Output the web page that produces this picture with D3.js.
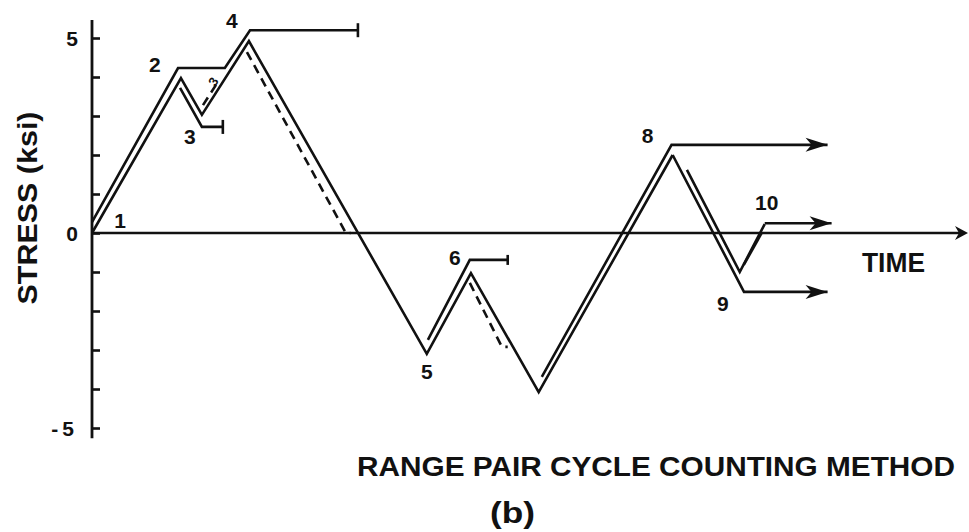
<!DOCTYPE html>
<html>
<head>
<meta charset="utf-8">
<script src="https://cdn.jsdelivr.net/npm/d3@7"></script>
<style>
  body { margin: 0; background: #fff; }
  svg { display: block; }
  text { font-family: "Liberation Sans", Arial, sans-serif; font-weight: bold; fill: #111; }
</style>
</head>
<body>
<svg id="chart" width="969" height="532"></svg>
<script>
// Stress history reversals: time (load units) and stress (ksi)
const reversalLabels = ["1", "2", "3", "4", "5", "6", "7", "8", "9", "10"];
const reversalTimes  = [0, 3.99, 4.93, 7.04, 15.02, 17.0, 20.04, 26.05, 29.06, 30.18];
const reversalStress = [0, 3.97, 3.03, 4.92, -3.10, -1.03, -4.08, 2.0, -1.0, 0.23];

// The 8-9 descent is drawn starting just below the peak
const descent8Start = [26.69, 1.62];

// Stress axis ticks (ksi) and the ones that carry a label
const stressTicks = [-5, -4, -3, -2, -1, 0, 1, 2, 3, 4, 5];
const labelledTicks = [-5, 0, 5];

// Range pair traces: [time, stress] vertices
const pairOuter12_4 = [[0, 0.28], [3.86, 4.23], [5.96, 4.23], [7.09, 5.2], [11.93, 5.2]];
const pair2_3       = [[3.95, 3.72], [4.93, 2.72], [5.87, 2.72]];
const pair5_6       = [[15.07, -2.74], [16.95, -0.69], [18.65, -0.69]];
const residual7_8   = [[20.18, -3.69], [26.0, 2.26], [33.0, 2.26]];
const residual8_9   = [[26.05, 2.0], [29.25, -1.51], [33.0, -1.51]];
const residual9_10  = [[29.24, -0.82], [30.04, 0.0]];
const residual10    = [[30.18, 0.25], [33.18, 0.25]];

// Dashed reversal paths (counted halves)
const dash3_4 = [[4.98, 3.28], [5.70, 3.92]];
const dash4_0 = [[6.95, 4.64], [11.39, 0.0], [11.61, 0.0]];
const dash6_7 = [[16.95, -1.28], [18.39, -2.92], [18.65, -2.92]];

const svg = d3.select("#chart");
const x = d3.scaleLinear().domain([0, 39.3]).range([92, 968]);
const y = d3.scaleLinear().domain([-5, 5]).range([428, 38]);
const line = d3.line().x(d => x(d[0])).y(d => y(d[1]));

const ink = "#111";
const sw = 2.6;

// ---- axes ----
svg.append("line")
  .attr("x1", x(0)).attr("x2", x(0))
  .attr("y1", y(5.46)).attr("y2", y(-5.26))
  .attr("stroke", ink).attr("stroke-width", 2.8);

const yAxis = d3.axisRight(y).tickValues(stressTicks).tickSize(8).tickFormat("");
const gy = svg.append("g").attr("transform", `translate(${x(0)},0)`).call(yAxis);
gy.select(".domain").remove();
gy.selectAll(".tick line").attr("stroke", ink).attr("stroke-width", 2.6);

svg.selectAll("text.ytick")
  .data(labelledTicks)
  .join("text")
  .attr("class", "ytick")
  .attr("x", 78)
  .attr("y", d => y(d) + 7.5)
  .attr("text-anchor", "end")
  .attr("font-size", 21)
  .attr("letter-spacing", d => d < 0 ? 4 : 0)
  .text(d => String(d));

// time axis with arrow
const xEnd = x.range()[1];
svg.append("line")
  .attr("x1", x(0)).attr("x2", xEnd - 4)
  .attr("y1", y(0)).attr("y2", y(0))
  .attr("stroke", ink).attr("stroke-width", 2.6);
svg.append("path")
  .attr("d", `M${xEnd},${y(0)} L${xEnd - 13},${y(0) - 7} L${xEnd - 9},${y(0)} L${xEnd - 13},${y(0) + 7} Z`)
  .attr("fill", ink);

// ---- stress history ----
const reversals = reversalTimes.map((t, i) => [t, reversalStress[i]]);
svg.append("path")
  .attr("d", line(reversals.slice(0, 8)))
  .attr("fill", "none").attr("stroke", ink).attr("stroke-width", sw)
  .attr("stroke-linejoin", "miter");
svg.append("path")
  .attr("d", line([descent8Start, reversals[8], reversals[9]]))
  .attr("fill", "none").attr("stroke", ink).attr("stroke-width", sw);

// ---- range pair traces ----
function trace(pts, dashed) {
  svg.append("path")
    .attr("d", line(pts))
    .attr("fill", "none").attr("stroke", ink).attr("stroke-width", sw)
    .attr("stroke-dasharray", dashed ? "9,6" : null)
    .attr("stroke-linejoin", "miter");
}
function endCap(pt, half) {
  svg.append("line")
    .attr("x1", x(pt[0])).attr("x2", x(pt[0]))
    .attr("y1", y(pt[1]) - half).attr("y2", y(pt[1]) + half)
    .attr("stroke", ink).attr("stroke-width", 2.6);
}
function arrowEnd(pt) {
  const px = x(pt[0]), py = y(pt[1]);
  svg.append("path")
    .attr("d", `M${px},${py} L${px - 22},${py - 7} L${px - 16},${py} L${px - 22},${py + 7} Z`)
    .attr("fill", ink);
}

trace(pairOuter12_4); endCap(pairOuter12_4[pairOuter12_4.length - 1], 7);
trace(pair2_3);       endCap(pair2_3[pair2_3.length - 1], 7);
trace(pair5_6);       endCap(pair5_6[pair5_6.length - 1], 5);
trace(residual7_8);   arrowEnd(residual7_8[residual7_8.length - 1]);
trace(residual8_9);   arrowEnd(residual8_9[residual8_9.length - 1]);
trace(residual9_10);
trace(residual10);    arrowEnd(residual10[residual10.length - 1]);

trace(dash3_4, true);
trace(dash4_0, true);
trace(dash6_7, true);

// small reversal mark on the dashed 3 path
svg.append("text")
  .attr("transform", `translate(${x(5.62)},${y(3.82)}) rotate(-58)`)
  .attr("text-anchor", "middle")
  .attr("font-size", 13)
  .text("3");

// ---- reversal labels ----
const labelOffsets = [[28, -13], [-26, -14], [-12, 22], [-17, -21], [0, 18], [-16, -16], null, [-25, -20], [-17, 31], [2, -22]];
svg.selectAll("text.rev")
  .data(reversals.map((p, i) => ({ p, i })).filter(d => labelOffsets[d.i]))
  .join("text")
  .attr("class", "rev")
  .attr("x", d => x(d.p[0]) + labelOffsets[d.i][0])
  .attr("y", d => y(d.p[1]) + labelOffsets[d.i][1] + 7.5)
  .attr("text-anchor", "middle")
  .attr("font-size", 21)
  .text(d => reversalLabels[d.i]);

// ---- titles ----
svg.append("text")
  .attr("x", 862).attr("y", 272)
  .attr("font-size", 27)
  .attr("textLength", 63).attr("lengthAdjust", "spacingAndGlyphs")
  .text("TIME");

svg.append("text")
  .attr("transform", "translate(37,208) rotate(-90)")
  .attr("text-anchor", "middle")
  .attr("font-size", 27)
  .attr("textLength", 193).attr("lengthAdjust", "spacingAndGlyphs")
  .text("STRESS  (ksi)");

svg.append("text")
  .attr("x", 357).attr("y", 476)
  .attr("font-size", 27)
  .attr("textLength", 598).attr("lengthAdjust", "spacingAndGlyphs")
  .text("RANGE  PAIR  CYCLE  COUNTING  METHOD");

svg.append("text")
  .attr("x", 490).attr("y", 523)
  .attr("font-size", 29)
  .attr("textLength", 45).attr("lengthAdjust", "spacingAndGlyphs")
  .text("(b)");
</script>
</body>
</html>
